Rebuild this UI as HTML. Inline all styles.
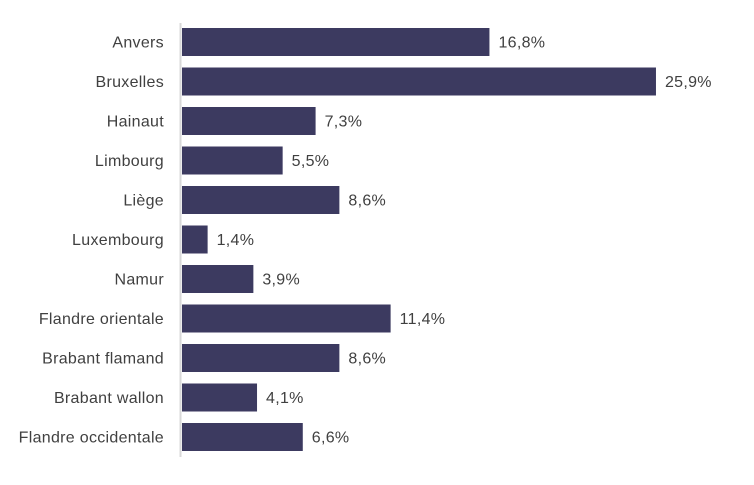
<!DOCTYPE html>
<html><head><meta charset="utf-8"><style>
body{margin:0;background:#fff;}
svg text{font-family:"Liberation Sans",sans-serif;font-size:16px;letter-spacing:0.3px;fill:#404040;}
</style></head><body>
<svg width="754" height="480" xmlns="http://www.w3.org/2000/svg">
<line x1="180.5" y1="23" x2="180.5" y2="457" stroke="#d9d9d9" stroke-width="2"/>
<g id="bars"></g>
</svg>
<script>
var d=[["Anvers",16.8],["Bruxelles",25.9],["Hainaut",7.3],["Limbourg",5.5],["Liège",8.6],["Luxembourg",1.4],["Namur",3.9],["Flandre orientale",11.4],["Brabant flamand",8.6],["Brabant wallon",4.1],["Flandre occidentale",6.6]];
var g=document.getElementById("bars"),s="";
d.forEach(function(r,i){var y=28+i*39.5,w=r[1]*18.3;
s+='<rect x="182" y="'+y+'" width="'+w+'" height="28" fill="#3c3a60"/>';
s+='<text x="164" y="'+(y+19.5)+'" text-anchor="end">'+r[0]+'</text>';
s+='<text x="'+(182+w+9)+'" y="'+(y+19.5)+'">'+r[1].toFixed(1).replace(".",",")+'%</text>';});
g.innerHTML=s;
</script>
</body></html>
